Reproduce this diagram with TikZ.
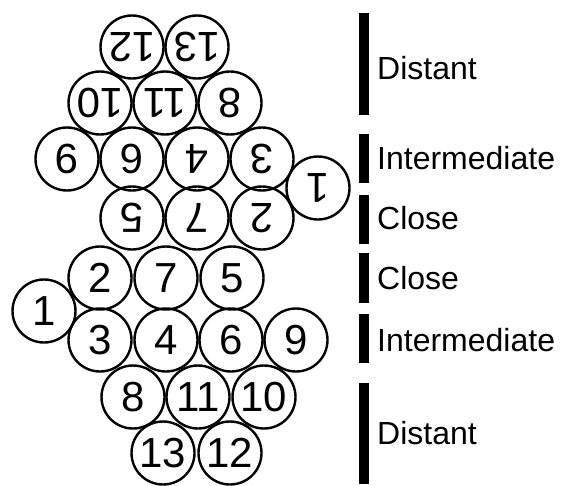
\documentclass[tikz,border=0pt]{standalone}
\usepackage{fontspec}
\setmainfont{Liberation Sans}
\begin{document}
\begin{tikzpicture}[x=1pt,y=-1pt,
  ball/.style={circle,draw,line width=2.4pt,minimum size=63pt,inner sep=0pt,
    font=\fontsize{42}{42}\selectfont},
  flip/.style={ball,rotate=180},
  lab/.style={anchor=west,inner sep=0pt,font=\fontsize{32}{32}\selectfont},
  bar/.style={line width=10pt}]
\useasboundingbox (0,0) rectangle (567,485);
% top half (upside down)
\node[flip] (t12) at (132,47) {12};
\node[flip] (t13) at (197,47) {13};
\node[flip] (t10) at (100,103) {10};
\node[flip] (t11) at (165,103) {11};
\node[flip] (t8) at (230,103) {8};
\node[flip] (t9) at (67,159) {9};
\node[flip] (t6) at (132,159) {6};
\node[flip] (t4) at (197,159) {4};
\node[flip] (t3) at (262,159) {3};
\node[flip] (t1) at (318,188) {1};
\node[flip] (t5) at (132,218) {5};
\node[flip] (t7) at (197,218) {7};
\node[flip] (t2) at (262,218) {2};
% bottom half
\node[ball] (b2) at (100,278) {2};
\node[ball] (b7) at (166,278) {7};
\node[ball] (b5) at (232,278) {5};
\node[ball] (b1) at (44,311) {1};
\node[ball] (b3) at (100,340) {3};
\node[ball] (b4) at (166,340) {4};
\node[ball] (b6) at (231,340) {6};
\node[ball] (b9) at (296,340) {9};
\node[ball] (b8) at (133,397) {8};
\node[ball] (b11) at (198,397) {11};
\node[ball] (b10) at (264,397) {10};
\node[ball] (b13) at (163,453) {13};
\node[ball] (b12) at (230,453) {12};
% bars
\draw[bar] (364,13) -- (364,115);
\draw[bar] (364,134) -- (364,183);
\draw[bar] (364,195) -- (364,244);
\draw[bar] (364,253) -- (364,303);
\draw[bar] (364,314) -- (364,363);
\draw[bar] (364,383) -- (364,484);
% labels
\node[lab] (l1) at (377,68) {Distant};
\node[lab] (l2) at (377,158) {Intermediate};
\node[lab] (l3) at (377,218) {Close};
\node[lab] (l4) at (377,278) {Close};
\node[lab] (l5) at (377,340) {Intermediate};
\node[lab] (l6) at (377,433) {Distant};
\end{tikzpicture}
\end{document}
